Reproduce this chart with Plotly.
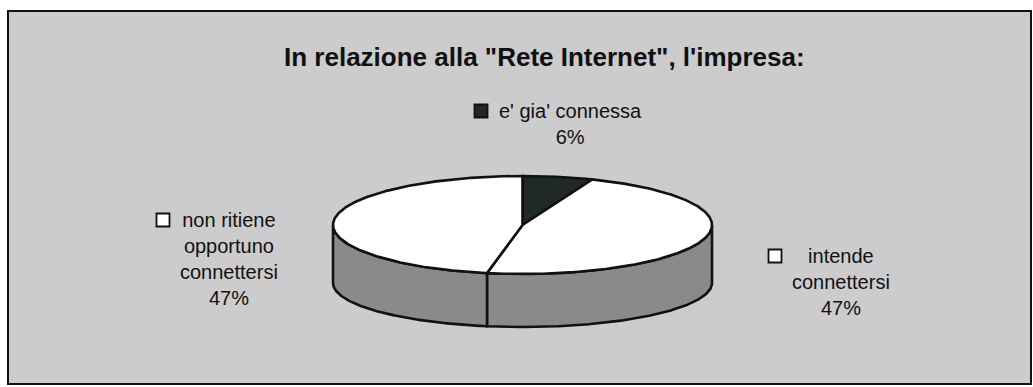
import numpy as np
import plotly.graph_objects as go

# Survey answers: "In relazione alla 'Rete Internet', l'impresa:"
categories = ["e' gia' connessa", "intende connettersi", "non ritiene opportuno connettersi"]
label_lines = ["e' gia' connessa", "intende<br>connettersi", "non ritiene<br>opportuno<br>connettersi"]
values = [6, 47, 47]

# Styling
slice_colors = ["#1f2a26", "#ffffff", "#ffffff"]
side_color = "#8a8a8a"
panel_color = "#cccccc"
outline = "#111111"
W, H = 1033, 387

# 3D-pie geometry (pixel space, y grows downward)
cx, cy = 522.5, 225.0
rx, ry_top, ry_bot, depth = 189.5, 49.0, 44.0, 58.0

total = float(sum(values))
bounds = np.concatenate([[0.0], np.cumsum(values) / total * 360.0])  # clockwise from 12 o'clock


def top_xy(theta_deg):
    t = np.radians(theta_deg)
    return cx + rx * np.sin(t), cy - ry_top * np.cos(t)


def bot_xy(theta_deg):
    t = np.radians(theta_deg)
    return cx + rx * np.sin(t), cy + depth - ry_bot * np.cos(t)


fig = go.Figure()

# front walls of the disc (visible between 90 and 270 degrees)
for i in range(len(values)):
    a0, a1 = max(bounds[i], 90.0), min(bounds[i + 1], 270.0)
    if a1 <= a0:
        continue
    th = np.linspace(a0, a1, 200)
    xt, yt = top_xy(th)
    xb, yb = bot_xy(th[::-1])
    fig.add_trace(go.Scatter(
        x=np.concatenate([xt, xb, xt[:1]]), y=np.concatenate([yt, yb, yt[:1]]),
        mode="lines", fill="toself", fillcolor=side_color,
        line=dict(color=outline, width=2.6), hoverinfo="skip", showlegend=False))

# top faces of the slices
for i in range(len(values)):
    th = np.linspace(bounds[i], bounds[i + 1], 300)
    xa, ya = top_xy(th)
    fig.add_trace(go.Scatter(
        x=np.concatenate([[cx], xa, [cx]]), y=np.concatenate([[cy], ya, [cy]]),
        mode="lines", fill="toself", fillcolor=slice_colors[i],
        line=dict(color=outline, width=2.6), hoverinfo="skip", showlegend=False,
        name=categories[i]))

# data labels with their colour keys
label_pos = [(570, 123.5, 481, 111), (841, 282, 775, 256), (229, 259, 163, 220)]
font = dict(family="Liberation Sans, Arial, sans-serif", size=20, color="#111111")
for i, (tx, ty, kx, ky) in enumerate(label_pos):
    pct = round(values[i] / total * 100)
    fig.add_annotation(x=tx, y=ty, text=f"{label_lines[i]}<br>{pct}%", showarrow=False,
                       align="center", xanchor="center", yanchor="middle", font=font)
    fig.add_trace(go.Scatter(
        x=[kx], y=[ky], mode="markers",
        marker=dict(symbol="square", size=13, color=slice_colors[i],
                    line=dict(color=outline, width=1.8)),
        hoverinfo="skip", showlegend=False))

fig.add_annotation(x=544, y=57, text="<b>In relazione alla \"Rete Internet\", l'impresa:</b>",
                   showarrow=False, xanchor="center", yanchor="middle",
                   font=dict(family="Liberation Sans, Arial, sans-serif", size=26, color="#111111"))

fig.update_layout(
    width=W, height=H, margin=dict(l=0, r=0, t=0, b=0),
    paper_bgcolor="#ffffff", plot_bgcolor="#ffffff", showlegend=False, hovermode=False,
    xaxis=dict(range=[0, W], visible=False, fixedrange=True),
    yaxis=dict(range=[H, 0], visible=False, fixedrange=True),
    shapes=[dict(type="rect", x0=8, y0=11, x1=1031, y1=384, layer="below",
                 fillcolor=panel_color, line=dict(color=outline, width=2))],
)

fig.write_html("out.html")
